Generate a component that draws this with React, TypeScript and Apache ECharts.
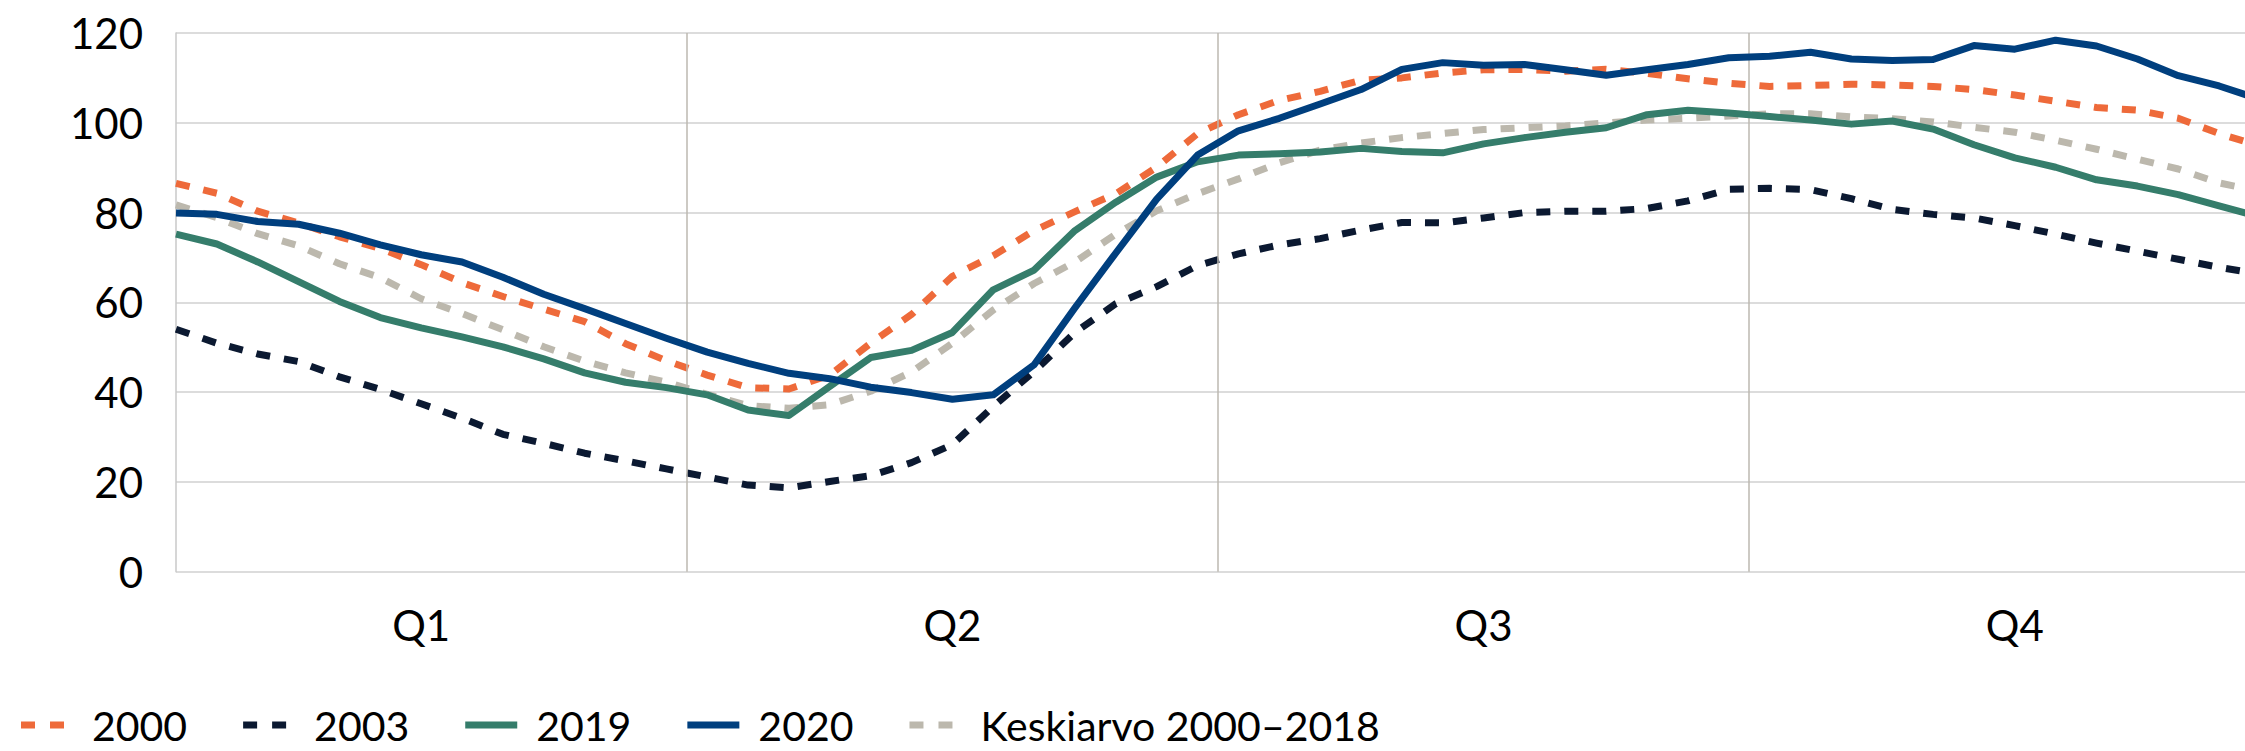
import React, { useEffect, useRef } from 'react';
import * as echarts from 'echarts';

// Legend / series names
const seriesNames = ['2000', '2003', '2019', '2020', 'Keskiarvo 2000–2018'];

// Weekly values (52 weeks)
const v2000 = [86.5, 84.3, 80.3, 77.7, 74.6, 72.0, 68.4, 64.4, 61.3, 58.5, 55.7, 50.8, 47.0, 43.8, 41.0, 40.7, 43.8, 50.9, 57.3, 65.8, 70.4, 76.0, 80.2, 84.2, 90.1, 97.6, 101.8, 105.0, 107.0, 109.5, 110.0, 111.1, 111.8, 111.9, 111.5, 111.9, 111.0, 109.8, 108.8, 108.1, 108.3, 108.6, 108.4, 108.1, 107.4, 106.2, 104.8, 103.4, 102.8, 101.0, 97.6, 94.8];
const v2003 = [54.0, 50.9, 48.5, 46.8, 43.4, 40.6, 37.4, 34.2, 30.6, 28.6, 26.4, 24.7, 22.9, 21.1, 19.3, 18.7, 20.1, 21.4, 24.3, 28.3, 36.8, 44.6, 53.3, 59.7, 63.5, 68.2, 70.8, 72.8, 74.2, 76.1, 77.8, 77.7, 78.8, 80.0, 80.3, 80.3, 80.9, 82.6, 85.2, 85.4, 85.1, 83.1, 80.7, 79.6, 78.8, 77.1, 75.2, 73.2, 71.4, 69.6, 67.8, 66.3];
const v2019 = [75.2, 73.0, 69.0, 64.6, 60.2, 56.6, 54.3, 52.3, 50.1, 47.4, 44.3, 42.2, 41.0, 39.4, 36.0, 34.8, 41.3, 47.7, 49.3, 53.3, 62.8, 67.2, 76.0, 82.3, 87.9, 91.3, 92.8, 93.1, 93.5, 94.3, 93.6, 93.3, 95.3, 96.7, 97.9, 98.9, 101.8, 102.8, 102.2, 101.4, 100.6, 99.7, 100.4, 98.6, 95.1, 92.2, 90.1, 87.3, 85.9, 84.0, 81.5, 79.0];
const v2020 = [79.9, 79.6, 78.0, 77.4, 75.4, 72.8, 70.6, 69.0, 65.6, 61.8, 58.6, 55.3, 52.0, 48.9, 46.4, 44.2, 43.0, 41.1, 39.9, 38.4, 39.4, 46.1, 58.8, 71.0, 83.0, 92.8, 98.2, 101.0, 104.2, 107.4, 111.9, 113.4, 112.8, 113.0, 111.8, 110.6, 111.8, 113.0, 114.5, 114.8, 115.7, 114.2, 113.9, 114.1, 117.2, 116.4, 118.4, 117.1, 114.2, 110.5, 108.2, 105.2];
const vAvg = [81.7, 78.9, 75.3, 72.6, 68.6, 65.5, 60.8, 57.5, 53.9, 50.1, 46.9, 44.3, 42.2, 39.5, 37.0, 36.4, 37.2, 40.2, 44.5, 50.9, 58.3, 64.2, 69.0, 75.2, 80.4, 84.2, 87.5, 91.1, 93.9, 95.5, 96.7, 97.6, 98.5, 98.9, 99.3, 100.0, 100.6, 101.0, 101.5, 102.0, 102.0, 101.3, 100.9, 100.2, 99.0, 97.9, 96.1, 94.1, 91.9, 89.7, 86.6, 84.7];

// Axis labels
const yTicks = [0, 20, 40, 60, 80, 100, 120];
const quarterLabels = ['Q1', 'Q2', 'Q3', 'Q4'];
const quarterCenters = [6, 19, 32, 45];
const quarterBounds = [12.5, 25.5, 38.5];

const colors = ['#EE6A3A', '#0B1931', '#357D6B', '#003F7E', '#BCB8AD'];
const dashed = [true, true, false, false, true];
const FONT = 'Lato';

const toPairs = (arr: number[]) => arr.map((v, i) => [i, v]);

// legend keys (with a flat invisible span so the text sits a little further right)
const DASH_ICON = 'path://M0,0h14v7h-14zM29,0h14v7h-14zM0,0h66v0h-66z';
const SOLID_ICON = 'path://M0,0h52v7h-52zM0,0h66v0h-66z';

export default function App() {
  const ref = useRef<HTMLDivElement>(null);

  useEffect(() => {
    if (!ref.current) return;
    const chart = echarts.init(ref.current, null, { renderer: 'svg' });
    const values = [v2000, v2003, v2019, v2020, vAvg];
    const zs = [3, 4, 5, 6, 2];

    const lineSeries = values.map((vals, k) => ({
      name: seriesNames[k],
      type: 'line',
      data: toPairs(vals),
      symbol: 'none',
      silent: true,
      z: zs[k],
      lineStyle: {
        color: colors[k],
        width: 7,
        type: dashed[k] ? [14, 14] : 'solid',
        cap: 'butt',
        join: 'round',
      },
      itemStyle: { color: colors[k] },
      emphasis: { disabled: true },
    }));

    const option: any = {
      animation: false,
      backgroundColor: '#ffffff',
      textStyle: { fontFamily: FONT },
      grid: { left: 176, right: 15, top: 33, bottom: 179.3, containLabel: false },
      xAxis: {
        type: 'value',
        min: 0,
        max: 51,
        interval: 1,
        axisLine: { show: false },
        axisTick: { show: false },
        splitLine: { show: false },
        axisLabel: {
          show: true,
          margin: 32,
          fontSize: 42,
          color: '#000',
          fontFamily: FONT,
          formatter: (v: number) => {
            const idx = quarterCenters.indexOf(Math.round(v));
            return idx >= 0 && Math.abs(v - quarterCenters[idx]) < 1e-6 ? quarterLabels[idx] : '';
          },
        },
      },
      yAxis: {
        type: 'value',
        min: yTicks[0],
        max: yTicks[yTicks.length - 1],
        interval: yTicks[1] - yTicks[0],
        axisLine: { show: true, lineStyle: { color: '#C9C9C9', width: 1.5 } },
        axisTick: { show: false },
        splitLine: { show: true, lineStyle: { color: '#D0D0D0', width: 1.5 } },
        axisLabel: { margin: 33, fontSize: 42, color: '#000', fontFamily: FONT },
      },
      legend: {
        data: seriesNames.map((n, k) => ({
          name: n,
          icon: dashed[k] ? DASH_ICON : SOLID_ICON,
          itemStyle: { color: colors[k], borderWidth: 0 },
        })),
        left: 16,
        top: 699,
        padding: 5,
        itemWidth: 66,
        itemHeight: 7,
        itemGap: 56,
        selectedMode: false,
        textStyle: { fontSize: 41, lineHeight: 42, color: '#000', fontFamily: FONT },
      },
      series: [
        {
          type: 'line',
          data: [],
          silent: true,
          z: 1,
          markLine: {
            silent: true,
            symbol: ['none', 'none'],
            label: { show: false },
            lineStyle: { color: '#BDB9B1', width: 1.5, type: 'solid' },
            emphasis: { disabled: true },
            data: quarterBounds.map((x) => ({ xAxis: x })),
          },
        },
        ...lineSeries,
      ],
    };
    chart.setOption(option);
    return () => chart.dispose();
  }, []);

  return (
    <div style={{ position: 'fixed', left: 0, top: 0, width: 2245, height: 751, overflow: 'hidden', background: '#fff' }}>
      <div ref={ref} style={{ width: 2275, height: 751 }} />
    </div>
  );
}
